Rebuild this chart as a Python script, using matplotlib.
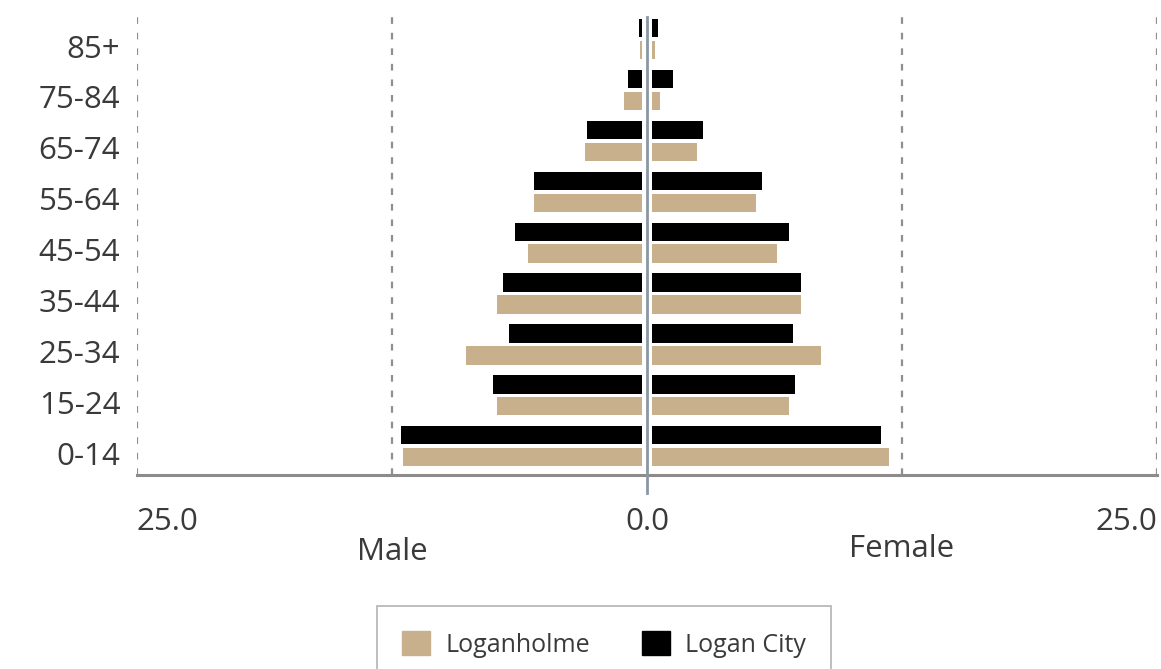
import matplotlib.pyplot as plt
from matplotlib.patches import Patch

# Age groups, bottom to top
ages = ['0-14', '15-24', '25-34', '35-44', '45-54', '55-64', '65-74', '75-84', '85+']

# Percent of population
loganholme_male = [11.7, 7.1, 8.6, 7.1, 5.6, 5.3, 2.8, 0.9, 0.1]
logan_city_male = [11.8, 7.3, 6.5, 6.8, 6.2, 5.3, 2.7, 0.7, 0.15]
loganholme_female = [11.6, 6.7, 8.3, 7.3, 6.1, 5.1, 2.2, 0.4, 0.15]
logan_city_female = [11.2, 7.0, 6.9, 7.3, 6.7, 5.4, 2.5, 1.0, 0.3]

x_ticks = [-25, 0, 25]
x_tick_labels = ['25.0', '0.0', '25.0']

tan = '#c9b08c'
black = '#000000'
text_col = '#3a3a3a'

plt.rcParams['font.family'] = ['Open Sans', 'DejaVu Sans']

fig = plt.figure(figsize=(11.61, 6.69), dpi=100)
ax = fig.add_axes([137 / 1161, 1 - 475 / 669, 1020 / 1161, 458 / 669])

y = list(range(len(ages)))
gap = 0.25
h = 0.36
y_city = [v + 0.35 for v in y]
y_holme = [v - 0.08 for v in y]

ax.barh(y_city, [-v for v in logan_city_male], left=-gap, height=h, color=black)
ax.barh(y_holme, [-v for v in loganholme_male], left=-gap, height=h, color=tan)
ax.barh(y_city, logan_city_female, left=gap, height=h, color=black)
ax.barh(y_holme, loganholme_female, left=gap, height=h, color=tan)

ax.set_xlim(-25, 25)
ax.set_ylim(-0.43, 8.57)

# dashed grid lines
for gx in [-25, -12.5, 12.5, 25]:
    ax.axvline(gx, color='#8f8f8f', linestyle=(0, (3, 4)), linewidth=1.6, zorder=0)

# centre line
ax.axvline(0, ymin=-0.04, ymax=1, color='#8a97a3', linewidth=2, clip_on=False, zorder=3)

for side in ['top', 'left', 'right']:
    ax.spines[side].set_visible(False)
ax.spines['bottom'].set_color('#8c8c8c')
ax.spines['bottom'].set_linewidth(2.2)

ax.set_yticks(y)
ax.set_yticklabels(ages, fontsize=22.5, color=text_col)
ax.tick_params(axis='y', length=0, pad=12)

ax.set_xticks(x_ticks)
ax.set_xticklabels(x_tick_labels, fontsize=22.5, color=text_col)
ax.tick_params(axis='x', length=0, pad=23)
labs = ax.get_xticklabels()
labs[0].set_horizontalalignment('left')
labs[2].set_horizontalalignment('right')

# Male / Female labels
ax.text(-12.5, -1.95, 'Male', ha='center', va='center', fontsize=22.5, color=text_col)
ax.text(12.5, -1.88, 'Female', ha='center', va='center', fontsize=22.5, color=text_col)

handles = [Patch(color=tan, label='Loganholme'), Patch(color=black, label='Logan City')]
leg = fig.legend(handles=handles, loc='upper center', bbox_to_anchor=(604 / 1161, 1 - 606 / 669),
                 ncol=2, fontsize=18, frameon=True, fancybox=False, borderpad=1.0,
                 borderaxespad=0, handlelength=1.12, handleheight=1.12,
                 handletextpad=0.6, columnspacing=2.1)
leg.get_frame().set_edgecolor('#a0a0a0')
leg.get_frame().set_linewidth(1.2)
for t in leg.get_texts():
    t.set_color(text_col)

fig.savefig('out.png', dpi=100)
